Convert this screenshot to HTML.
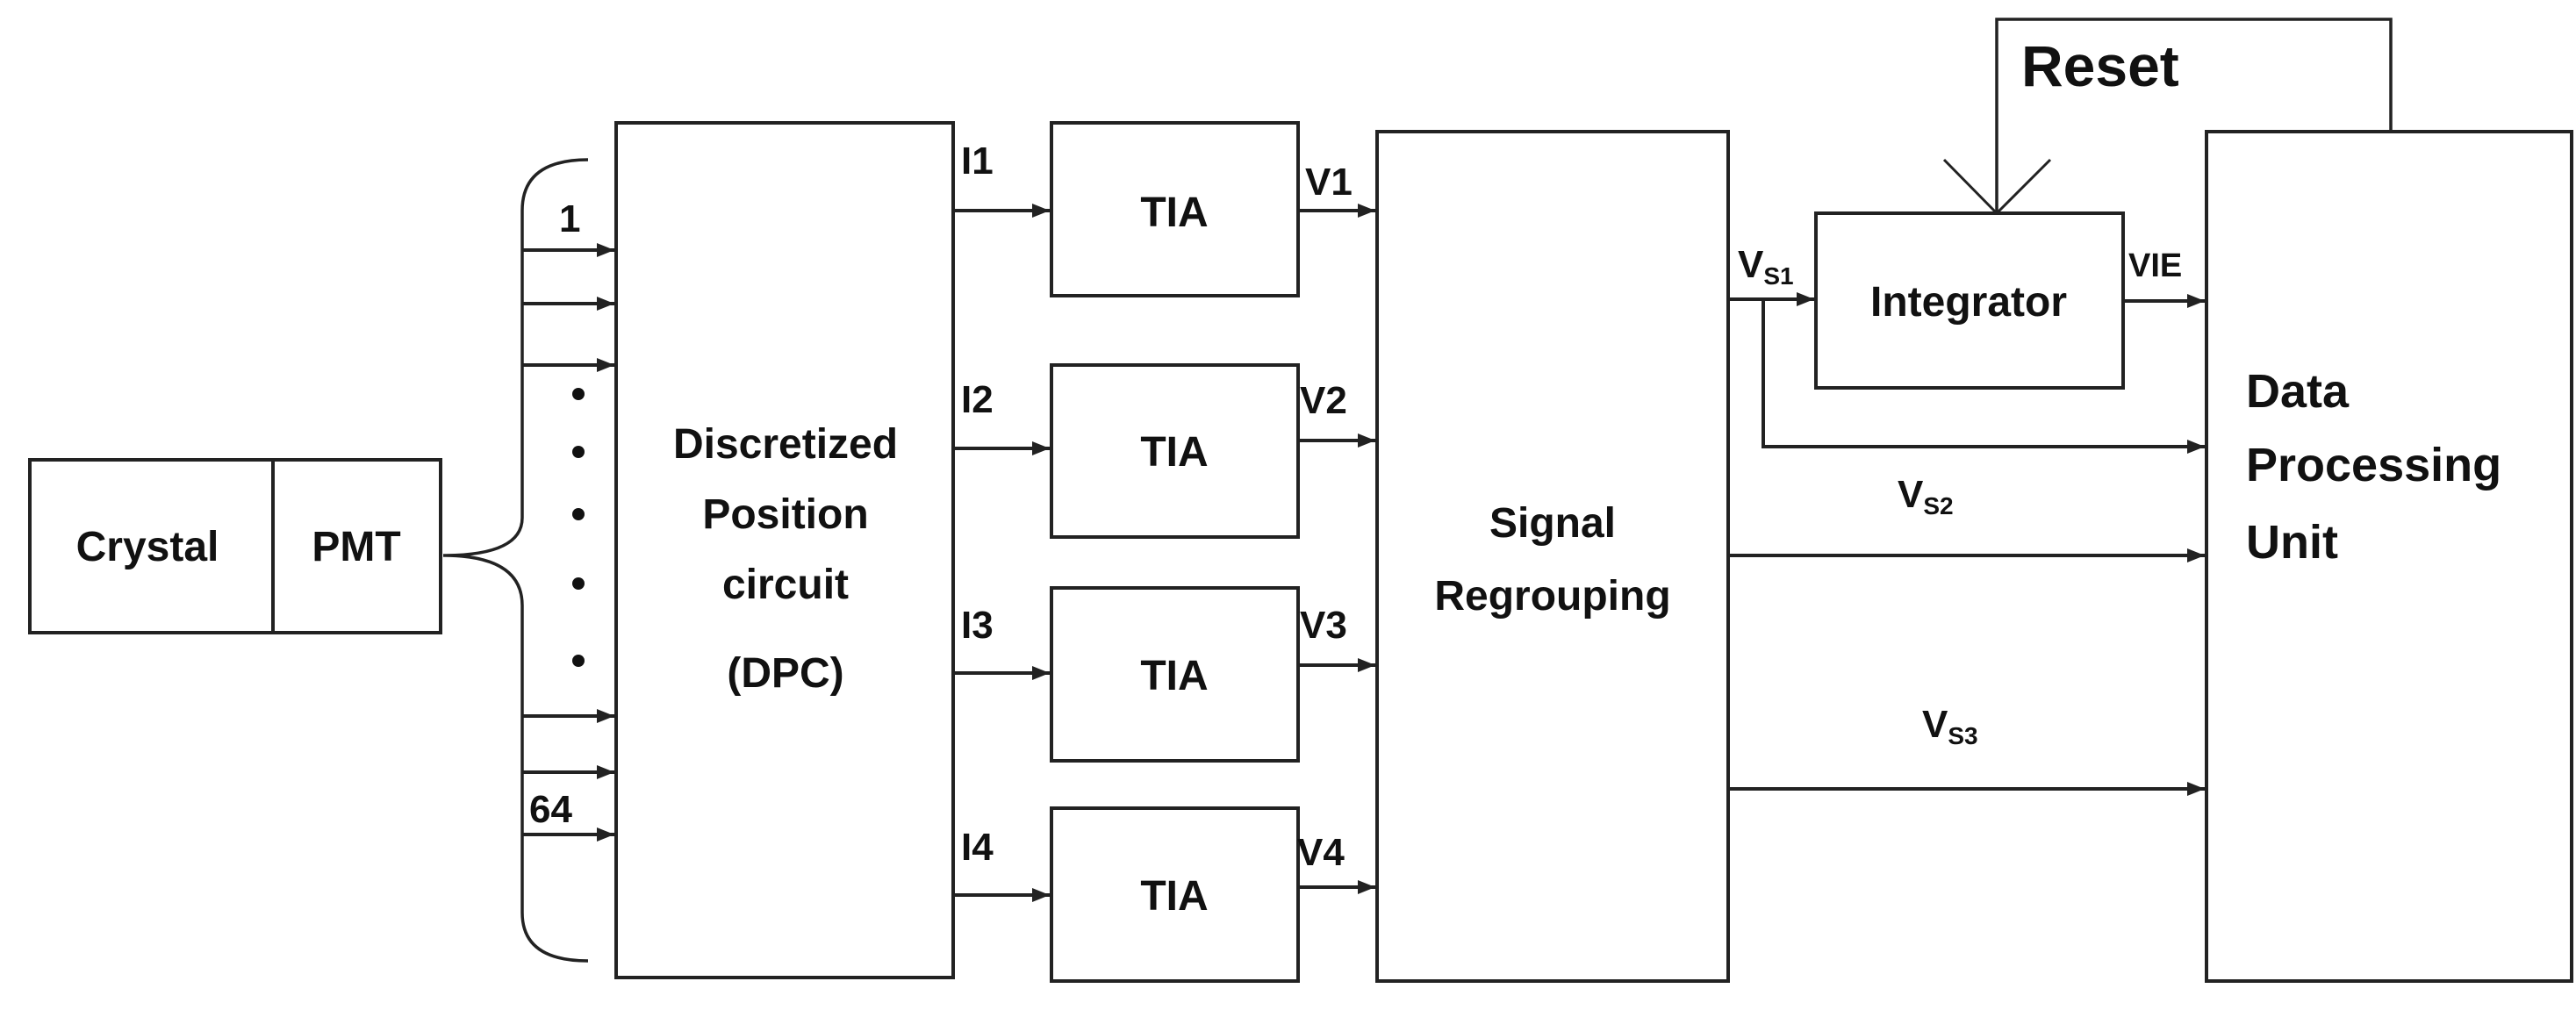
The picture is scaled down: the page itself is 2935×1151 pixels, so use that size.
<!DOCTYPE html>
<html><head><style>body{margin:0;background:#fff}svg{display:block}text{font-family:"Liberation Sans",sans-serif;font-weight:bold;fill:#111}</style></head>
<body>
<svg width="2935" height="1151" viewBox="0 0 2935 1151" xmlns="http://www.w3.org/2000/svg">
<defs>
<marker id="b" markerWidth="22" markerHeight="16" refX="20" refY="8" orient="auto" markerUnits="userSpaceOnUse"><path d="M0,0 L20,8 L0,16 z" fill="#222"/></marker>
</defs>
<g stroke="#222" stroke-width="4" fill="none">
<rect x="34" y="524" width="468" height="197"/>
<line x1="311" y1="524" x2="311" y2="721"/>
<rect x="702" y="140" width="384" height="974"/>
<rect x="1198" y="140" width="281" height="197"/>
<rect x="1198" y="416" width="281" height="196"/>
<rect x="1198" y="670" width="281" height="197"/>
<rect x="1198" y="921" width="281" height="197"/>
<rect x="1569" y="150" width="400" height="968"/>
<rect x="2069" y="243" width="350" height="199"/>
<rect x="2514" y="150" width="416" height="968"/>
<path d="M670,182 Q595,182 595,240 L595,590 Q595,633 505,633 Q595,633 595,690 L595,1040 Q595,1095 670,1095" stroke-width="3.5"/>
<g marker-end="url(#b)">
<line x1="595" y1="285" x2="700" y2="285"/><line x1="595" y1="346" x2="700" y2="346"/><line x1="595" y1="416" x2="700" y2="416"/>
<line x1="595" y1="816" x2="700" y2="816"/><line x1="595" y1="880" x2="700" y2="880"/><line x1="595" y1="951" x2="700" y2="951"/>
<line x1="1086" y1="240" x2="1196" y2="240"/><line x1="1086" y1="511" x2="1196" y2="511"/><line x1="1086" y1="767" x2="1196" y2="767"/><line x1="1086" y1="1020" x2="1196" y2="1020"/>
<line x1="1479" y1="240" x2="1567" y2="240"/><line x1="1479" y1="502" x2="1567" y2="502"/><line x1="1479" y1="758" x2="1567" y2="758"/><line x1="1479" y1="1011" x2="1567" y2="1011"/>
<line x1="1969" y1="341" x2="2067" y2="341"/>
<polyline points="2009,341 2009,509 2512,509"/>
<line x1="1969" y1="633" x2="2512" y2="633"/>
<line x1="1969" y1="899" x2="2512" y2="899"/>
<line x1="2419" y1="343" x2="2512" y2="343"/>
</g>
<polyline points="2275,243 2275,22 2724,22 2724,150" stroke-width="3.5"/>
<line x1="2215" y1="182" x2="2275" y2="243" stroke-width="3"/>
<line x1="2336" y1="182" x2="2275" y2="243" stroke-width="3"/>
</g>
<g fill="#111">
<circle cx="659" cy="449" r="7"/><circle cx="659" cy="515" r="7"/><circle cx="659" cy="586" r="7"/><circle cx="659" cy="665" r="7"/><circle cx="659" cy="753" r="7"/>
</g>
<g font-size="48" text-anchor="middle">
<text x="168" y="639">Crystal</text>
<text x="406" y="639">PMT</text>
<text x="895" y="522">Discretized</text>
<text x="895" y="602">Position</text>
<text x="895" y="682">circuit</text>
<text x="895" y="783">(DPC)</text>
<text x="1338" y="258">TIA</text>
<text x="1338" y="531">TIA</text>
<text x="1338" y="786">TIA</text>
<text x="1338" y="1037">TIA</text>
<text x="1769" y="612">Signal</text>
<text x="1769" y="695">Regrouping</text>
<text x="2243" y="360">Integrator</text>
</g>
<g font-size="44">
<text x="637" y="264">1</text>
<text x="603" y="937">64</text>
<text x="1095" y="198">I1</text>
<text x="1095" y="470">I2</text>
<text x="1095" y="727">I3</text>
<text x="1095" y="980">I4</text>
<text x="1487" y="222">V1</text>
<text x="1481" y="471">V2</text>
<text x="1481" y="727">V3</text>
<text x="1478" y="986">V4</text>
<text x="1980" y="316">V<tspan font-size="28" dy="8">S1</tspan></text>
<text x="2162" y="578">V<tspan font-size="28" dy="8">S2</tspan></text>
<text x="2190" y="840">V<tspan font-size="28" dy="8">S3</tspan></text>
<text x="2425" y="315" font-size="38">VIE</text>
<text x="2303" y="98" font-size="66">Reset</text>
<text x="2559" y="464" font-size="54">Data</text>
<text x="2559" y="548" font-size="54">Processing</text>
<text x="2559" y="636" font-size="54">Unit</text>
</g>
</svg>
</body></html>
